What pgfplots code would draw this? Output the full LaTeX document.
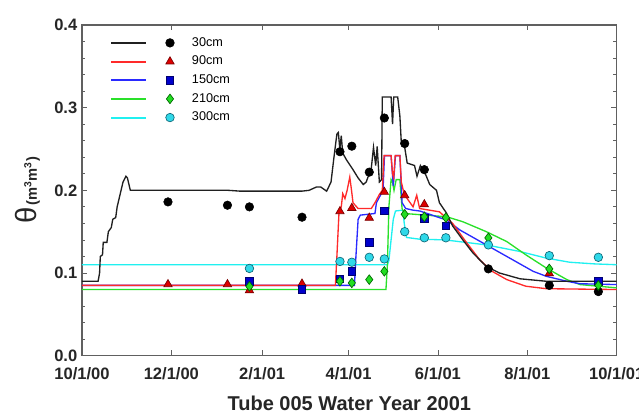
\documentclass[border=0pt]{standalone}
\usepackage{fontspec}
\setmainfont{Liberation Sans}
\usepackage{pgfplots}
\pgfplotsset{compat=1.18}
\definecolor{lblack}{HTML}{202020}
\definecolor{lred}{HTML}{FF2A2A}
\definecolor{lblue}{HTML}{2A2AFF}
\definecolor{lgreen}{HTML}{2AE02A}
\definecolor{lcyan}{HTML}{20F0F0}
\definecolor{mred}{HTML}{DD0000}
\definecolor{mredE}{HTML}{7A0000}
\definecolor{mblue}{HTML}{0000CC}
\definecolor{mblueE}{HTML}{000070}
\definecolor{mgreen}{HTML}{22DD22}
\definecolor{mgreenE}{HTML}{006600}
\definecolor{mcyan}{HTML}{30D8E8}
\definecolor{mcyanE}{HTML}{106878}
\definecolor{frame}{HTML}{606060}
\begin{document}
\begin{tikzpicture}
\useasboundingbox (-61.5pt,-43.5pt) rectangle (417.75pt,266.75pt);
\begin{axis}[
  at={(0,0)}, anchor=south west,
  scale only axis, width=401pt, height=248pt,
  xmin=0, xmax=365, ymin=0, ymax=0.4,
  xtick={0,61,123,182,243,304,365},
  xticklabels={10/1/00,12/1/00,2/1/01,4/1/01,6/1/01,8/1/01,10/1/01},
  ytick={0,0.1,0.2,0.3,0.4},
  minor y tick num=4,
  /pgf/number format/assume math mode=true,
  yticklabel style={/pgf/number format/fixed, /pgf/number format/fixed zerofill, /pgf/number format/precision=1},
  xticklabel style={yshift=-5pt},
  tick label style={font=\fontsize{12.4}{14}\selectfont\bfseries, text=black!85},
  tick align=inside,
  major tick length=4pt, minor tick length=2.5pt,
  tick style={frame, line width=0.6pt},
  axis line style={frame, line width=0.9pt},
  xlabel={Tube 005 Water Year 2001},
  xlabel style={font=\fontsize{15}{17}\selectfont\bfseries, yshift=-5.75pt, text=black!85},
  ylabel={{\fontsize{22}{22}\selectfont θ}\,{\fontsize{11}{12}\selectfont\bfseries (m\textsuperscript{3}m\textsuperscript{3})}},
  ylabel style={yshift=4pt, text=black!85},
  legend style={draw=none, fill=none, at={(0.045,0.983)}, anchor=north west,
    font=\fontsize{9.5}{11}\selectfont, row sep=0pt,
    nodes={text height=7pt, text depth=2pt, inner sep=2.5pt}},
  legend cell align=left,
  legend image code/.code={
    \draw[#1, mark=none, line width=1.5pt] (0pt,0pt) -- (26pt,0pt);
    \draw[#1, only marks] plot coordinates {(44pt,0pt)};
    \path[draw=none] (0pt,0pt) -- (58pt,0pt);
  },
]
\addlegendimage{draw=lblack, mark=*, mark size=3.2pt, mark options={fill=black, draw=black, line width=0.5pt}}
\addlegendentry{30cm}
\addlegendimage{draw=lred, mark=triangle*, mark size=3.6pt, mark options={fill=mred, draw=mredE, line width=0.5pt}}
\addlegendentry{90cm}
\addlegendimage{draw=lblue, mark=square*, mark size=2.8pt, mark options={fill=mblue, draw=mblueE, line width=0.5pt}}
\addlegendentry{150cm}
\addlegendimage{draw=lgreen, mark=diamond*, mark size=3.6pt, mark options={fill=mgreen, draw=mgreenE, line width=0.5pt}}
\addlegendentry{210cm}
\addlegendimage{draw=lcyan, mark=*, mark size=3.2pt, mark options={fill=mcyan, draw=mcyanE, line width=0.5pt}}
\addlegendentry{300cm}

% ---- lines ----
\addplot[forget plot, lcyan, line width=1pt] coordinates {
(0,0.11) (208.5,0.11) (209.5,0.115) (211,0.14) (212.5,0.165) (214,0.175) (219,0.176) (220,0.16) (221.5,0.143)
(230,0.141) (248,0.14) (276,0.134) (299,0.126) (317,0.118) (333,0.113) (350,0.111) (365,0.11)};

\addplot[forget plot, lgreen, line width=1pt] coordinates {
(0,0.08) (207.5,0.08) (208.5,0.11) (209.5,0.18) (211,0.213) (212,0.21) (213,0.2) (214.5,0.213) (217,0.213)
(218.5,0.178) (220,0.172) (249,0.168) (260,0.162) (276,0.150) (290,0.138) (303,0.122) (317,0.106)
(331,0.092) (340,0.086) (365,0.082)};

\addplot[forget plot, lblue, line width=1pt] coordinates {
(0,0.085) (186,0.085) (187,0.12) (188.5,0.165) (190,0.17) (200,0.172) (201,0.185) (204,0.195) (205.5,0.2)
(206.5,0.242) (211,0.242) (212.5,0.205) (214,0.242) (217,0.242) (218.5,0.185) (221,0.178) (226,0.176)
(230.6,0.175) (249,0.164) (258,0.152) (276,0.134) (294,0.116) (308,0.102) (317,0.096) (331,0.09)
(340,0.087) (365,0.086)};

\addplot[forget plot, lred, line width=1pt] coordinates {
(0,0.085) (173,0.085) (174,0.12) (175.5,0.175) (177,0.18) (178,0.196) (179.5,0.19) (181,0.2) (182.8,0.216)
(184,0.2) (185,0.185) (188.5,0.178) (197.5,0.178) (200,0.185) (203,0.195) (205,0.2) (206.2,0.242)
(211,0.242) (212,0.22) (212.8,0.215) (213.8,0.242) (217,0.242) (218,0.21) (220,0.195) (222,0.19)
(226,0.18) (228.5,0.194) (230.5,0.178) (244,0.174) (253,0.16) (262,0.138) (271.5,0.116) (280,0.102)
(290,0.092) (303,0.084) (317,0.081) (365,0.08)};

\addplot[forget plot, lblack, line width=1pt] coordinates {
(0,0.09) (11,0.09) (12,0.10) (12.5,0.12) (14,0.122) (14.5,0.137) (17,0.137) (18,0.15) (20,0.155)
(21,0.165) (23,0.167) (24,0.18) (26,0.195) (28,0.21) (30,0.217) (31,0.215) (33,0.2) (100,0.2)
(108,0.199) (150,0.199) (155,0.2) (160,0.204) (163,0.204) (167,0.199) (170,0.21) (172,0.24)
(174,0.268) (175,0.27) (176,0.25) (177,0.266) (178,0.245) (180.5,0.237) (185,0.225) (188.5,0.215)
(192,0.207) (194,0.21) (197.5,0.227) (199,0.252) (200.5,0.23) (201.5,0.253) (203,0.21) (204.5,0.213)
(205,0.313) (211,0.313) (212,0.28) (212.8,0.313) (215.5,0.313) (217,0.29) (218,0.257) (220.3,0.252)
(222,0.233) (227,0.23) (228.7,0.217) (231,0.23) (234.6,0.219) (237.4,0.207) (242,0.2) (244,0.185)
(249,0.172) (253,0.157) (260,0.14) (267,0.124) (276,0.108) (285,0.1) (299,0.093) (317,0.09) (365,0.09)};

% ---- markers ----
\addplot[forget plot, only marks, mark=*, mark size=3.2pt, mark options={fill=black, draw=black}] coordinates {
(58.7,0.186) (99.3,0.182) (114.3,0.180) (150.2,0.1675) (176.1,0.2467) (184.2,0.2534) (196.1,0.222)
(206.4,0.2875) (220.3,0.2566) (233.7,0.225) (277.4,0.105) (319,0.085) (352.5,0.0775)};

\addplot[forget plot, only marks, mark=triangle*, mark size=3.6pt, mark options={fill=mred, draw=mredE, line width=0.5pt}] coordinates {
(58.7,0.0863) (99.3,0.0863) (114.3,0.079) (150.2,0.087) (176.1,0.1746) (184.2,0.1786) (196.1,0.1667)
(206.4,0.198) (220.3,0.194) (233.7,0.183) (319,0.0995)};

\addplot[forget plot, only marks, mark=square*, mark size=2.8pt, mark options={fill=mblue, draw=mblueE, line width=0.5pt}] coordinates {
(114.3,0.09) (150.2,0.0805) (176.1,0.0927) (184.2,0.102) (196.1,0.137) (206.4,0.175) (233.7,0.166)
(248.4,0.157) (352.5,0.09)};

\addplot[forget plot, only marks, mark=diamond*, mark size=3.6pt, mark options={fill=mgreen, draw=mgreenE, line width=0.5pt}] coordinates {
(114.3,0.0838) (176.1,0.090) (184.2,0.088) (196.1,0.092) (206.4,0.102) (220.3,0.171) (233.7,0.168)
(248.4,0.167) (277.4,0.1425) (319,0.105) (352.5,0.085)};

\addplot[forget plot, only marks, mark=*, mark size=3.2pt, mark options={fill=mcyan, draw=mcyanE, line width=0.5pt}] coordinates {
(114.3,0.1055) (176.1,0.114) (184.2,0.113) (196.1,0.119) (206.4,0.117) (220.3,0.150) (233.7,0.1426)
(248.4,0.1426) (277.4,0.134) (319,0.121) (352.5,0.119)};
\end{axis}
\end{tikzpicture}
\end{document}
